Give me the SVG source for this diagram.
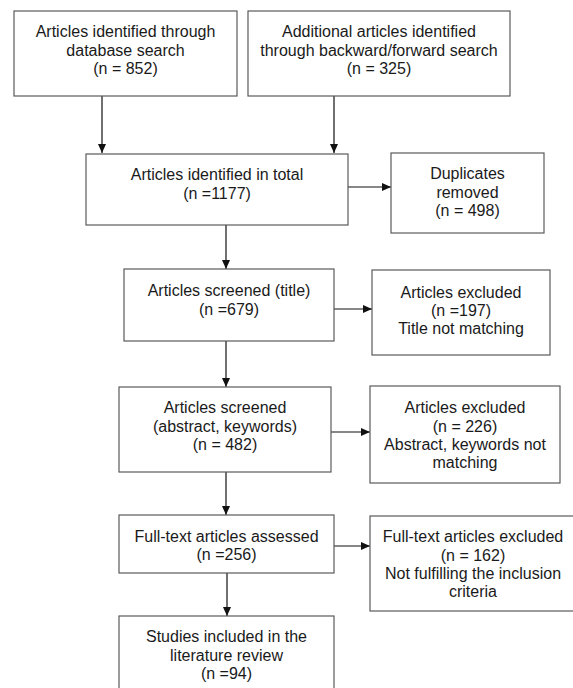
<svg xmlns="http://www.w3.org/2000/svg" width="573" height="688" viewBox="0 0 573 688">
<style>
.box{fill:#fff;stroke:#5a5a5a;stroke-width:1.2}
.t{font-family:"Liberation Sans",Arial,sans-serif;font-size:16px;fill:#1a1a1a;text-anchor:middle}
.c{stroke:#111;stroke-width:1.2;fill:none;marker-end:url(#ah)}
</style>
<defs>
<marker id="ah" markerWidth="9" markerHeight="8" refX="9" refY="4" orient="auto" markerUnits="userSpaceOnUse">
<path d="M0,0 L9,4 L0,8 z" fill="#111"/>
</marker>
</defs>
<rect width="573" height="688" fill="#fff"/>
<g id="connectors">
<line class="c" x1="102" y1="96" x2="102" y2="153"/>
<line class="c" x1="334" y1="96" x2="334" y2="153"/>
<line class="c" x1="348" y1="187" x2="391" y2="187"/>
<line class="c" x1="226" y1="225" x2="226" y2="269"/>
<line class="c" x1="334" y1="309" x2="372" y2="309"/>
<line class="c" x1="226" y1="341" x2="226" y2="387"/>
<line class="c" x1="331" y1="432" x2="370" y2="432"/>
<line class="c" x1="226" y1="472" x2="226" y2="515"/>
<line class="c" x1="334" y1="546" x2="370" y2="546"/>
<line class="c" x1="227" y1="573" x2="227" y2="616"/>
</g>
<g id="n1">
<rect class="box" x="14" y="11" width="223" height="85"/>
<text class="t" x="125.5" y="37">Articles identified through</text>
<text class="t" x="125.5" y="55.5">database search</text>
<text class="t" x="125.5" y="74">(n = 852)</text>
</g>
<g id="n2">
<rect class="box" x="248" y="11" width="262" height="85"/>
<text class="t" x="379" y="37">Additional articles identified</text>
<text class="t" x="379" y="55.5">through backward/forward search</text>
<text class="t" x="379" y="74">(n = 325)</text>
</g>
<g id="n3">
<rect class="box" x="86" y="154" width="262" height="71"/>
<text class="t" x="217" y="180">Articles identified in total</text>
<text class="t" x="217" y="199">(n =1177)</text>
</g>
<g id="n4">
<rect class="box" x="391" y="153" width="153" height="80"/>
<text class="t" x="467.5" y="179">Duplicates</text>
<text class="t" x="467.5" y="197.5">removed</text>
<text class="t" x="467.5" y="216">(n = 498)</text>
</g>
<g id="n5">
<rect class="box" x="124" y="269" width="210" height="72"/>
<text class="t" x="229" y="296">Articles screened (title)</text>
<text class="t" x="229" y="314.5">(n =679)</text>
</g>
<g id="n6">
<rect class="box" x="372" y="270" width="178" height="85"/>
<text class="t" x="461" y="298">Articles excluded</text>
<text class="t" x="461" y="316">(n =197)</text>
<text class="t" x="461" y="334">Title not matching</text>
</g>
<g id="n7">
<rect class="box" x="119" y="387" width="212" height="85"/>
<text class="t" x="225" y="413">Articles screened</text>
<text class="t" x="225" y="431.5">(abstract, keywords)</text>
<text class="t" x="225" y="450">(n = 482)</text>
</g>
<g id="n8">
<rect class="box" x="370" y="386" width="190" height="97"/>
<text class="t" x="465" y="413">Articles excluded</text>
<text class="t" x="465" y="431.5">(n = 226)</text>
<text class="t" x="465" y="450">Abstract, keywords not</text>
<text class="t" x="465" y="468">matching</text>
</g>
<g id="n9">
<rect class="box" x="119" y="515" width="215" height="58"/>
<text class="t" x="226.5" y="542">Full-text articles assessed</text>
<text class="t" x="226.5" y="560">(n =256)</text>
</g>
<g id="n10">
<rect class="box" x="370" y="516" width="206" height="95"/>
<text class="t" x="473" y="542">Full-text articles excluded</text>
<text class="t" x="473" y="560.5">(n = 162)</text>
<text class="t" x="473" y="579">Not fulfilling the inclusion</text>
<text class="t" x="473" y="597">criteria</text>
</g>
<g id="n11">
<rect class="box" x="119" y="616" width="215" height="84"/>
<text class="t" x="226.5" y="642">Studies included in the</text>
<text class="t" x="226.5" y="660.5">literature review</text>
<text class="t" x="226.5" y="679">(n =94)</text>
</g>
</svg>
